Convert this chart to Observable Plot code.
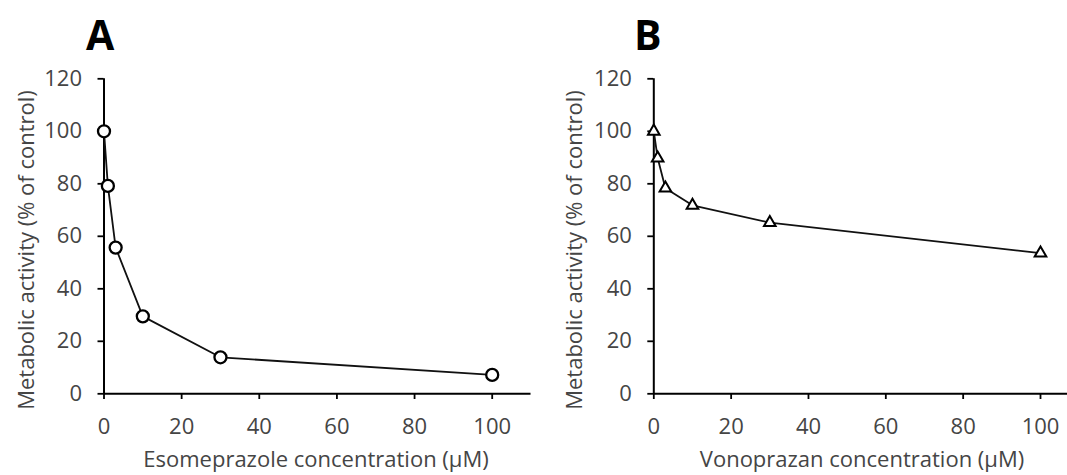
<!DOCTYPE html>
<html>
<head>
<meta charset="utf-8">
<script src="https://cdn.jsdelivr.net/npm/d3@7"></script>
<script src="https://cdn.jsdelivr.net/npm/@observablehq/plot@0.6"></script>
<style>
  html, body { margin: 0; padding: 0; background: #fff; }
  #wrap { position: relative; width: 1067px; height: 475px; overflow: hidden; font-family: "Open Sans", sans-serif; }
  #wrap > svg, #wrap > .p { position: absolute; top: 0; }
  .p g[aria-label="y-axis tick label"], .p g[aria-label="x-axis tick label"] { fill: #454545; }
  .lbl { fill: #454545; font-family: "Open Sans", sans-serif; font-size: 22px; }
  .ttl { fill: #000; font-family: "Open Sans", sans-serif; font-size: 41px; font-weight: 700; }
</style>
</head>
<body>
<div id="wrap"></div>
<script>
// ---- data ----
const concA = [0, 1, 3, 10, 30, 100];
const activityA = [100, 79.2, 55.7, 29.5, 13.9, 7.2];
const concB = [0, 1, 3, 10, 30, 100];
const activityB = [100, 89.8, 78.3, 71.8, 65.2, 53.6];
const xTicks = [0, 20, 40, 60, 80, 100];
const yTicks = [0, 20, 40, 60, 80, 100, 120];
const panelTitles = ["A", "B"];
const xLabels = ["Esomeprazole concentration (µM)", "Vonoprazan concentration (µM)"];
const yLabel = "Metabolic activity (% of control)";

const rowsA = concA.map((x, i) => ({x, y: activityA[i]}));
const rowsB = concB.map((x, i) => ({x, y: activityB[i]}));

function panel(rows, symbol, width, x0, x100, markerOpts) {
  const pxPerUnit = (x100 - x0) / 100;
  return Plot.plot({
    width, height: 475,
    marginLeft: x0, marginRight: 0, marginTop: 78, marginBottom: 82,
    style: {fontFamily: "Open Sans, sans-serif", fontSize: "22px", background: "transparent", overflow: "visible"},
    x: {domain: [0, 110], range: [x0, x0 + 110 * pxPerUnit]},
    y: {domain: [0, 120], range: [393.3, 78.3]},
    marks: [
      Plot.ruleY([0], {x1: 0, x2: 110, stroke: "black", strokeWidth: 2}),
      Plot.ruleX([0], {y1: 0, y2: 120, stroke: "black", strokeWidth: 2}),
      Plot.axisX({ticks: xTicks, tickSize: 6, tickPadding: 19, fontSize: 22, label: null, stroke: "black", strokeWidth: 1.8, tickFormat: d => String(d)}),
      Plot.axisY({ticks: yTicks, tickSize: 6, tickPadding: 16, fontSize: 22, label: null, stroke: "black", strokeWidth: 1.8, tickFormat: d => String(d)}),
      Plot.line(rows, {x: "x", y: "y", stroke: "#111", strokeWidth: 1.8}),
      Plot.dot(rows, {x: "x", y: "y", symbol, fill: "white", stroke: "black", ...markerOpts})
    ]
  });
}

const wrap = document.getElementById("wrap");
const pA = panel(rowsA, "circle", 530, 103.5, 491.7, {r: 6, strokeWidth: 2.3});
pA.classList.add("p");
pA.style.left = "0px";
wrap.appendChild(pA);
const pB = panel(rowsB, "triangle", 537, 123.3, 510, {r: 4.3, strokeWidth: 2});
pB.classList.add("p");
pB.style.left = "530px";
wrap.appendChild(pB);

// overlay: panel letters and axis titles
const ov = d3.select(wrap).append("svg").attr("width", 1067).attr("height", 475).style("left", "0px").style("pointer-events", "none");
const panelsGeom = [
  {tx: 86, yx: 33.5, xc: 316},
  {tx: 634, yx: 582, xc: 862}
];
panelsGeom.forEach((g, i) => {
  ov.append("text").attr("class", "ttl").attr("x", g.tx).attr("y", 50).text(panelTitles[i]);
  ov.append("text").attr("class", "lbl").attr("text-anchor", "middle")
    .attr("transform", `translate(${g.yx},250) rotate(-90)`).text(yLabel);
  ov.append("text").attr("class", "lbl").attr("text-anchor", "middle")
    .attr("x", g.xc).attr("y", 467).text(xLabels[i]);
});
</script>
</body>
</html>
